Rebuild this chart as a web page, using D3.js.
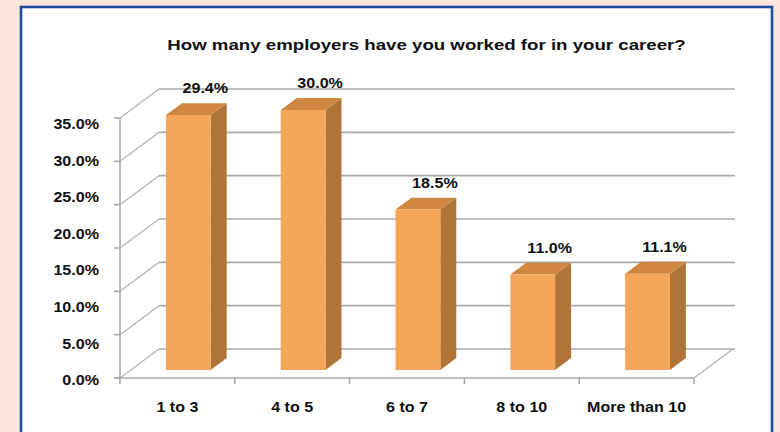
<!DOCTYPE html>
<html>
<head>
<meta charset="utf-8">
<script src="https://cdn.jsdelivr.net/npm/d3@7"></script>
<style>
  html, body { margin: 0; padding: 0; background: #fde5dd; }
  svg { display: block; }
  text { font-family: "Liberation Sans", Arial, Helvetica, sans-serif; font-weight: bold; fill: #111; }
</style>
</head>
<body>
<svg id="chart" width="780" height="432"></svg>
<script>
// Survey results
const title = "How many employers have you worked for in your career?";
const categories = ["1 to 3", "4 to 5", "6 to 7", "8 to 10", "More than 10"];
const values = [29.4, 30.0, 18.5, 11.0, 11.1];
const gridTicks = [0, 5, 10, 15, 20, 25, 30];
const axisLabelValues = [0, 5, 10, 15, 20, 25, 30, 35];

const W = 780, H = 432;
const svg = d3.select("#chart");

// Page panel with blue frame
svg.append("rect").attr("x", 0).attr("y", 0).attr("width", W).attr("height", H).attr("fill", "#fde5dd");
svg.append("rect")
  .attr("x", 21).attr("y", 7).attr("width", 751).attr("height", 460)
  .attr("fill", "#ffffff").attr("stroke", "#1c4d9e").attr("stroke-width", 2.6);

// Plot geometry: front plane of the 3D box, plus a depth offset to the back wall
const x = d3.scaleBand().domain(categories).range([120, 694]);
const y = d3.scaleLinear().domain([0, 30]).range([378, 118]);
const labelY = d3.scaleLinear().domain([0, 35]).range([380, 124]);
const depth = { dx: 39, dy: -29 };
const barDepth = [0.28, 0.69];
const barFrac = 0.39;

const proj = (px, v, d) => [px + d * depth.dx, y(v) + d * depth.dy];
const line = d3.line();

const grid = svg.append("g").attr("fill", "none");

// Back wall gridlines
grid.selectAll("path.back").data(gridTicks).join("path")
  .attr("class", "back")
  .attr("d", t => line([proj(x.range()[0], t, 1), proj(x.range()[1] + 2, t, 1)]))
  .attr("stroke", "#a9a9a9").attr("stroke-width", 1.6);

// Side wall diagonals
grid.selectAll("path.side").data(gridTicks).join("path")
  .attr("class", "side")
  .attr("d", t => line([proj(x.range()[0], t, 0), proj(x.range()[0], t, 1)]))
  .attr("stroke", "#b3b3b3").attr("stroke-width", 1.2);

// Floor right edge
grid.append("path")
  .attr("d", line([proj(x.range()[1], 0, 0), proj(x.range()[1], 0, 1)]))
  .attr("stroke", "#b3b3b3").attr("stroke-width", 1.2);

// Front value axis line + ticks
grid.append("path")
  .attr("d", line([[x.range()[0], y(30)], [x.range()[0], y(0)]]))
  .attr("stroke", "#a9a9a9").attr("stroke-width", 1.6);
grid.selectAll("path.ytick").data(gridTicks).join("path")
  .attr("class", "ytick")
  .attr("d", t => line([[x.range()[0] - 6, y(t)], [x.range()[0], y(t)]]))
  .attr("stroke", "#a9a9a9").attr("stroke-width", 1.6);

// Front category axis + ticks at band boundaries
grid.append("path")
  .attr("d", line([[x.range()[0] - 6, y(0)], [x.range()[1], y(0)]]))
  .attr("stroke", "#a9a9a9").attr("stroke-width", 1.6);
const bounds = categories.map(c => x(c)).concat([x.range()[1]]);
grid.selectAll("path.xtick").data(bounds).join("path")
  .attr("class", "xtick")
  .attr("d", b => line([[b, y(0)], [b, y(0) + 6]]))
  .attr("stroke", "#a9a9a9").attr("stroke-width", 1.6);

// 3D bars
const bars = svg.append("g");
const data = categories.map((c, i) => {
  const bw = x.bandwidth() * barFrac;
  const cx = x(c) + x.bandwidth() / 2;
  return { c, v: values[i], x0: cx - bw / 2, x1: cx + bw / 2 };
});
const [d0, d1] = barDepth;
const faces = [
  { name: "side", fill: "#b07536", pts: b => [proj(b.x1, 0, d0), proj(b.x1, 0, d1), proj(b.x1, b.v, d1), proj(b.x1, b.v, d0)] },
  { name: "top", fill: "#cf8742", pts: b => [proj(b.x0, b.v, d0), proj(b.x1, b.v, d0), proj(b.x1, b.v, d1), proj(b.x0, b.v, d1)] },
  { name: "front", fill: "#f6a658", pts: b => [proj(b.x0, 0, d0), proj(b.x1, 0, d0), proj(b.x1, b.v, d0), proj(b.x0, b.v, d0)] }
];
const barG = bars.selectAll("g.bar").data(data).join("g").attr("class", "bar");
faces.forEach(f => {
  barG.append("path")
    .attr("d", b => line(f.pts(b)) + "Z")
    .attr("fill", f.fill);
});

// Value labels above each bar
const fmt = d3.format(".1f");
svg.append("g").selectAll("text").data(data).join("text")
  .attr("transform", b => {
    const p = proj((b.x0 + b.x1) / 2, b.v, d1);
    return `translate(${p[0] + 1},${p[1] - 10}) scale(1.11,1)`;
  })
  .attr("text-anchor", "middle")
  .style("font-size", "14.5px")
  .text(b => fmt(b.v) + "%");

// Value axis labels
svg.append("g").selectAll("text").data(axisLabelValues).join("text")
  .attr("transform", v => `translate(99,${labelY(v) + 5.2}) scale(1.11,1)`)
  .attr("text-anchor", "end")
  .style("font-size", "14.5px")
  .text(v => fmt(v) + "%");

// Category labels
svg.append("g").selectAll("text").data(categories).join("text")
  .attr("transform", c => `translate(${x(c) + x.bandwidth() / 2},412) scale(1.11,1)`)
  .attr("text-anchor", "middle")
  .style("font-size", "14.5px")
  .text(c => c);

// Title
svg.append("text")
  .attr("transform", "translate(426.5,50) scale(1.245,1)")
  .attr("text-anchor", "middle")
  .style("font-size", "15px")
  .text(title);
</script>
</body>
</html>
